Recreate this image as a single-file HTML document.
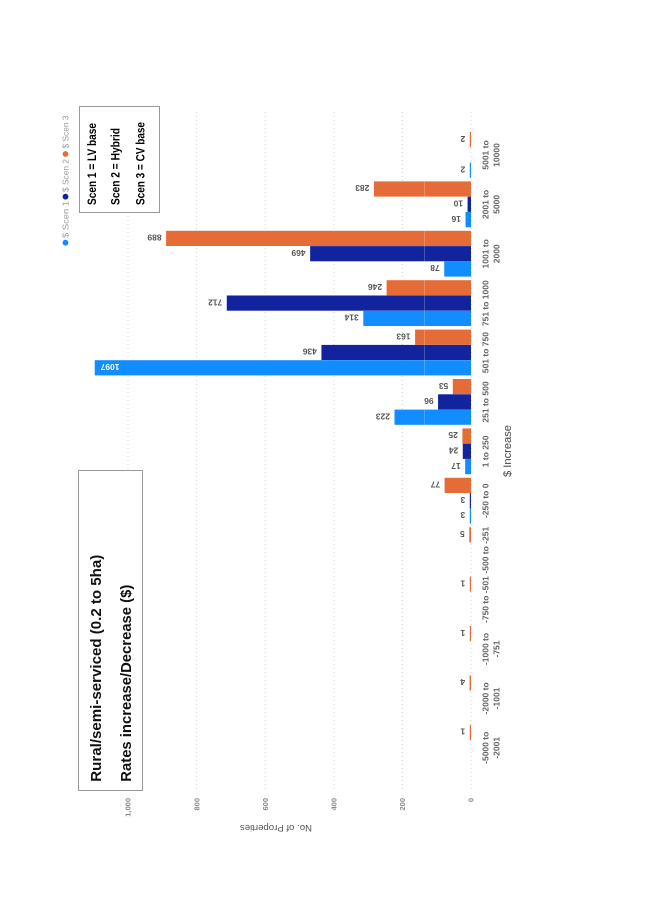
<!DOCTYPE html>
<html>
<head>
<meta charset="utf-8">
<style>
html,body{margin:0;padding:0;background:#fff;}
svg{display:block;}
text{font-family:"Liberation Sans",Arial,sans-serif;}
</style>
</head>
<body>
<svg width="645" height="912" viewBox="0 0 645 912" xmlns="http://www.w3.org/2000/svg">
<rect x="0" y="0" width="645" height="912" fill="#fff"/>

<!-- gridlines -->
<g stroke="#d4d4d4" stroke-width="1" stroke-dasharray="1 3">
  <line x1="128" y1="112" x2="128" y2="790"/>
  <line x1="196.6" y1="112" x2="196.6" y2="790"/>
  <line x1="265.2" y1="112" x2="265.2" y2="790"/>
  <line x1="333.8" y1="112" x2="333.8" y2="790"/>
  <line x1="402.4" y1="112" x2="402.4" y2="790"/>
  <line x1="471" y1="112" x2="471" y2="790"/>
</g>

<!-- bars -->
<g>
  <!-- 5001 to 10000 -->
  <rect x="469.8" y="132.0" width="1.2" height="15.2" fill="#E66C37"/>
  <rect x="469.8" y="162.6" width="1.2" height="15.2" fill="#118DFF"/>
  <!-- 2001 to 5000 -->
  <rect x="373.93" y="181.4" width="97.07" height="15.2" fill="#E66C37"/>
  <rect x="467.57" y="196.7" width="3.43" height="15.2" fill="#12239E"/>
  <rect x="465.51" y="212.0" width="5.49" height="15.2" fill="#118DFF"/>
  <!-- 1001 to 2000 -->
  <rect x="166.07" y="230.8" width="304.93" height="15.2" fill="#E66C37"/>
  <rect x="310.13" y="246.1" width="160.87" height="15.2" fill="#12239E"/>
  <rect x="444.25" y="261.4" width="26.75" height="15.2" fill="#118DFF"/>
  <!-- 751 to 1000 -->
  <rect x="386.62" y="280.2" width="84.38" height="15.2" fill="#E66C37"/>
  <rect x="226.78" y="295.5" width="244.22" height="15.2" fill="#12239E"/>
  <rect x="363.30" y="310.8" width="107.70" height="15.2" fill="#118DFF"/>
  <!-- 501 to 750 -->
  <rect x="415.09" y="329.6" width="55.91" height="15.2" fill="#E66C37"/>
  <rect x="321.45" y="344.9" width="149.55" height="15.2" fill="#12239E"/>
  <rect x="94.73" y="360.2" width="376.27" height="15.2" fill="#118DFF"/>
  <!-- 251 to 500 -->
  <rect x="452.82" y="379.0" width="18.18" height="15.2" fill="#E66C37"/>
  <rect x="438.07" y="394.3" width="32.93" height="15.2" fill="#12239E"/>
  <rect x="394.51" y="409.6" width="76.49" height="15.2" fill="#118DFF"/>
  <!-- 1 to 250 -->
  <rect x="462.42" y="428.4" width="8.58" height="15.2" fill="#E66C37"/>
  <rect x="462.77" y="443.7" width="8.23" height="15.2" fill="#12239E"/>
  <rect x="465.17" y="459.0" width="5.83" height="15.2" fill="#118DFF"/>
  <!-- -250 to 0 -->
  <rect x="444.59" y="477.8" width="26.41" height="15.2" fill="#E66C37"/>
  <rect x="469.8" y="493.1" width="1.2" height="15.2" fill="#12239E"/>
  <rect x="469.8" y="508.4" width="1.2" height="15.2" fill="#118DFF"/>
  <!-- -500 to -251 -->
  <rect x="469.28" y="527.2" width="1.72" height="15.2" fill="#E66C37"/>
  <!-- -750 to -501 -->
  <rect x="469.8" y="576.6" width="1.2" height="15.2" fill="#E66C37"/>
  <!-- -1000 to -751 -->
  <rect x="469.8" y="626.0" width="1.2" height="15.2" fill="#E66C37"/>
  <!-- -2000 to -1001 -->
  <rect x="469.6" y="675.4" width="1.4" height="15.2" fill="#E66C37"/>
  <!-- -5000 to -2001 -->
  <rect x="469.8" y="724.8" width="1.2" height="15.2" fill="#E66C37"/>
</g>

<!-- faint artifact line -->
<line x1="424.5" y1="112" x2="424.5" y2="790" stroke="#ffffff" stroke-opacity="0.22" stroke-width="1"/>

<!-- data labels (upside down) -->
<g font-size="8.5" font-weight="bold" fill="#555">
  <text transform="translate(465.3,135.8) rotate(180)">2</text>
  <text transform="translate(465.3,166.4) rotate(180)">2</text>
  <text transform="translate(369.4,185.2) rotate(180)">283</text>
  <text transform="translate(463.1,200.5) rotate(180)">10</text>
  <text transform="translate(461.0,215.8) rotate(180)">16</text>
  <text transform="translate(161.6,234.6) rotate(180)">889</text>
  <text transform="translate(305.6,249.9) rotate(180)">469</text>
  <text transform="translate(439.7,265.2) rotate(180)">78</text>
  <text transform="translate(382.1,284.0) rotate(180)">246</text>
  <text transform="translate(222.3,299.3) rotate(180)">712</text>
  <text transform="translate(358.8,314.6) rotate(180)">314</text>
  <text transform="translate(410.6,333.4) rotate(180)">163</text>
  <text transform="translate(316.9,348.7) rotate(180)">436</text>
  <text transform="translate(119.5,364.0) rotate(180)" fill="#fff">1097</text>
  <text transform="translate(448.3,382.8) rotate(180)">53</text>
  <text transform="translate(433.6,398.1) rotate(180)">96</text>
  <text transform="translate(390.0,413.4) rotate(180)">223</text>
  <text transform="translate(457.9,432.2) rotate(180)">25</text>
  <text transform="translate(458.3,447.5) rotate(180)">24</text>
  <text transform="translate(460.7,462.8) rotate(180)">17</text>
  <text transform="translate(440.1,481.6) rotate(180)">77</text>
  <text transform="translate(465.3,496.9) rotate(180)">3</text>
  <text transform="translate(465.3,512.2) rotate(180)">3</text>
  <text transform="translate(464.8,531.0) rotate(180)">5</text>
  <text transform="translate(465.3,580.4) rotate(180)">1</text>
  <text transform="translate(465.3,629.8) rotate(180)">1</text>
  <text transform="translate(465.1,679.2) rotate(180)">4</text>
  <text transform="translate(465.3,728.6) rotate(180)">1</text>
</g>

<!-- category labels -->
<g font-size="8.5" font-weight="bold" fill="#666" text-anchor="middle">
  <text transform="translate(488.5,155.0) rotate(-90)">5001 to</text>
  <text transform="translate(499.5,155.0) rotate(-90)">10000</text>
  <text transform="translate(488.5,204.4) rotate(-90)">2001 to</text>
  <text transform="translate(499.5,204.4) rotate(-90)">5000</text>
  <text transform="translate(488.5,253.8) rotate(-90)">1001 to</text>
  <text transform="translate(499.5,253.8) rotate(-90)">2000</text>
  <text transform="translate(488.5,303.2) rotate(-90)">751 to 1000</text>
  <text transform="translate(488.5,352.6) rotate(-90)">501 to 750</text>
  <text transform="translate(488.5,402.0) rotate(-90)">251 to 500</text>
  <text transform="translate(488.5,451.4) rotate(-90)">1 to 250</text>
  <text transform="translate(488.5,500.8) rotate(-90)">-250 to 0</text>
  <text transform="translate(488.5,550.2) rotate(-90)">-500 to -251</text>
  <text transform="translate(488.5,599.6) rotate(-90)">-750 to -501</text>
  <text transform="translate(488.5,649.0) rotate(-90)">-1000 to</text>
  <text transform="translate(499.5,649.0) rotate(-90)">-751</text>
  <text transform="translate(488.5,698.4) rotate(-90)">-2000 to</text>
  <text transform="translate(499.5,698.4) rotate(-90)">-1001</text>
  <text transform="translate(488.5,747.8) rotate(-90)">-5000 to</text>
  <text transform="translate(499.5,747.8) rotate(-90)">-2001</text>
</g>

<!-- x axis title -->
<text transform="translate(511,451) rotate(-90)" font-size="11" fill="#444" text-anchor="middle" textLength="52" lengthAdjust="spacingAndGlyphs">$ Increase</text>

<!-- value axis labels -->
<g font-size="7.5" font-weight="bold" fill="#888" text-anchor="end">
  <text transform="translate(130.7,798) rotate(-90)">1,000</text>
  <text transform="translate(199.3,798) rotate(-90)">800</text>
  <text transform="translate(267.9,798) rotate(-90)">600</text>
  <text transform="translate(336.5,798) rotate(-90)">400</text>
  <text transform="translate(405.1,798) rotate(-90)">200</text>
  <text transform="translate(473.7,798) rotate(-90)">0</text>
</g>

<!-- value axis title (upside down) -->
<text transform="translate(276,825) rotate(180)" font-size="9" fill="#555" text-anchor="middle" textLength="72" lengthAdjust="spacingAndGlyphs">No. of Properties</text>

<!-- legend -->
<g>
  <circle cx="65.5" cy="242.7" r="2.9" fill="#118DFF"/>
  <text transform="translate(68.5,238) rotate(-90)" font-size="8.5" fill="#999" textLength="37" lengthAdjust="spacingAndGlyphs">$ Scen 1</text>
  <circle cx="65.5" cy="196.7" r="2.9" fill="#12239E"/>
  <text transform="translate(68.5,192) rotate(-90)" font-size="8.5" fill="#999" textLength="33" lengthAdjust="spacingAndGlyphs">$ Scen 2</text>
  <circle cx="65.5" cy="154" r="2.9" fill="#E66C37"/>
  <text transform="translate(68.5,148.5) rotate(-90)" font-size="8.5" fill="#999" textLength="33" lengthAdjust="spacingAndGlyphs">$ Scen 3</text>
</g>

<!-- scenario box -->
<rect x="79.5" y="106.5" width="80" height="106" fill="#fff" stroke="#9a9a9a" stroke-width="1"/>
<g font-size="11.5" font-weight="bold" fill="#000">
  <text transform="translate(96,205) rotate(-90)" textLength="82" lengthAdjust="spacingAndGlyphs">Scen 1 = LV base</text>
  <text transform="translate(119.5,205) rotate(-90)" textLength="77" lengthAdjust="spacingAndGlyphs">Scen 2 = Hybrid</text>
  <text transform="translate(144.5,205) rotate(-90)" textLength="83" lengthAdjust="spacingAndGlyphs">Scen 3 = CV base</text>
</g>

<!-- title box -->
<rect x="78.5" y="470.5" width="64" height="320" fill="#fff" stroke="#9a9a9a" stroke-width="1"/>
<g font-size="15" font-weight="bold" fill="#111">
  <text transform="translate(101,781.7) rotate(-90)" textLength="227" lengthAdjust="spacingAndGlyphs">Rural/semi-serviced (0.2 to 5ha)</text>
  <text transform="translate(131,781.7) rotate(-90)" textLength="197" lengthAdjust="spacingAndGlyphs">Rates increase/Decrease ($)</text>
</g>
</svg>
</body>
</html>
